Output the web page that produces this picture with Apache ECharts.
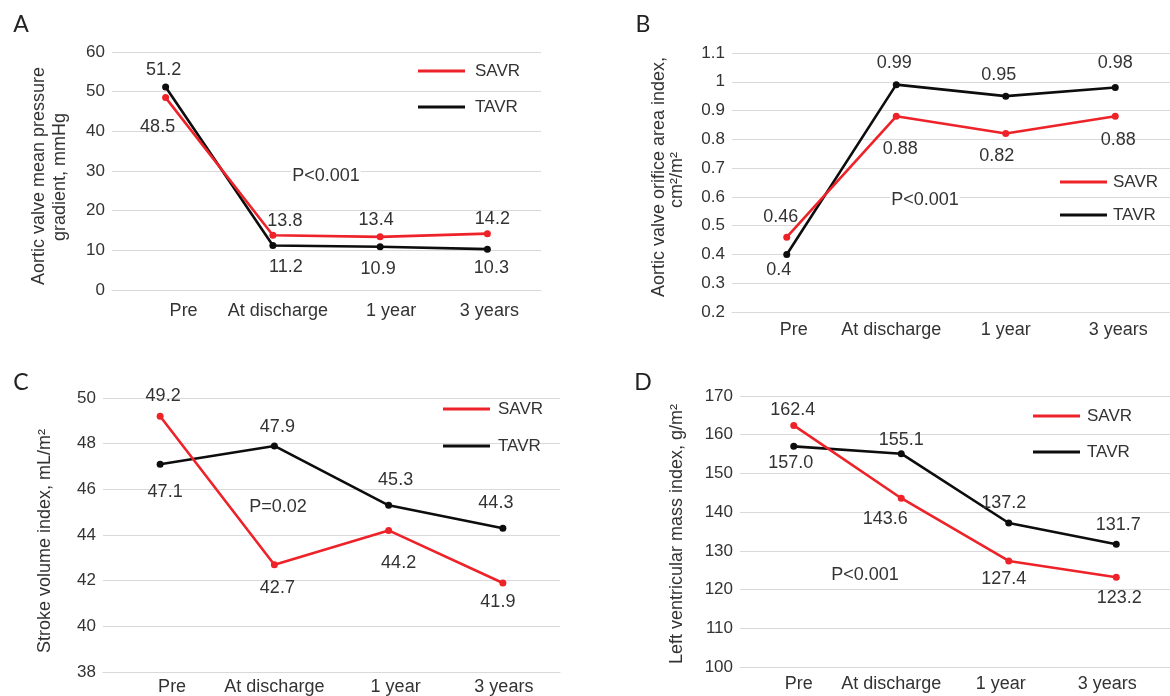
<!DOCTYPE html>
<html>
<head>
<meta charset="utf-8">
<script src="https://cdn.jsdelivr.net/npm/echarts@6/dist/echarts.min.js"></script>
<style>
  html, body { margin: 0; padding: 0; background: #fff; }
  #chart { width: 1170px; height: 696px; }
</style>
</head>
<body>
<div id="chart"></div>
<script>
// ---- data ----
const categories = ['Pre', 'At discharge', '1 year', '3 years'];
const seriesNames = ['SAVR', 'TAVR'];

// A: aortic valve mean pressure gradient, mmHg
const gradientSAVR = [48.5, 13.8, 13.4, 14.2];
const gradientTAVR = [51.2, 11.2, 10.9, 10.3];
// B: aortic valve orifice area index, cm2/m2
const areaSAVR = [0.46, 0.88, 0.82, 0.88];
const areaTAVR = [0.4, 0.99, 0.95, 0.98];
// C: stroke volume index, mL/m2
const strokeSAVR = [49.2, 42.7, 44.2, 41.9];
const strokeTAVR = [47.1, 47.9, 45.3, 44.3];
// D: left ventricular mass index, g/m2
const massSAVR = [162.4, 143.6, 127.4, 123.2];
const massTAVR = [157.0, 155.1, 137.2, 131.7];

// y-axis ranges (min, max, step)
const gradientAxis = [0, 60, 10];
const areaAxis = [0.2, 1.1, 0.1];
const strokeAxis = [38, 50, 2];
const massAxis = [100, 170, 10];

const panelLetters = ['A', 'B', 'C', 'D'];
const pValues = ['P<0.001', 'P<0.001', 'P=0.02', 'P<0.001'];
const yTitles = [
  ['Aortic valve mean pressure', 'gradient, mmHg'],
  ['Aortic valve orifice area index,', 'cm²/m²'],
  ['Stroke volume index, mL/m²'],
  ['Left ventricular mass index, g/m²']
];

// ---- styling ----
const FONT = '"Liberation Sans", Arial, Helvetica, sans-serif';
const TEXT = '#333333';
const RED = '#ee2229';
const BLACK = '#0d0d0d';
const GRIDLINE = '#d9d9d9';

const panels = [
  {
    savr: gradientSAVR, tavr: gradientTAVR, axis: gradientAxis,
    fmt: v => v.toFixed(1),
    grid: { left: 112, top: 52, width: 429, height: 238 },
    catShift: [18, 5, 11, 2], catMargin: 12,
    legend: { left: 418, top: 62, gap: 18, textPad: 5 },
    savrOff: [[-8, 29], [12, -14], [-4, -17], [5, -15]],
    tavrOff: [[-2, -17], [13, 21], [-2, 22], [4, 19]],
    letter: [21, 25], p: [326, 176],
    titles: [[39, 176], [60, 177]]
  },
  {
    savr: areaSAVR, tavr: areaTAVR, axis: areaAxis,
    fmt: v => String(v),
    grid: { left: 732, top: 53, width: 448, height: 259 },
    catShift: [7, -5, 0, 3], catMargin: 9,
    legend: { left: 1060, top: 173, gap: 15, textPad: 1 },
    savrOff: [[-6, -20], [4, 33], [-9, 22], [3, 24]],
    tavrOff: [[-8, 16], [-2, -22], [-7, -21], [0, -25]],
    letter: [643, 25], p: [925, 200],
    titles: [[659, 177], [677, 180]]
  },
  {
    savr: strokeSAVR, tavr: strokeTAVR, axis: strokeAxis,
    fmt: v => v.toFixed(1),
    grid: { left: 103, top: 398, width: 457, height: 274 },
    catShift: [12, 0, 7, 1], catMargin: 6,
    legend: { left: 443, top: 400, gap: 19, textPad: 3 },
    savrOff: [[3, -20], [3, 23], [10, 33], [-5, 19]],
    tavrOff: [[5, 28], [3, -19], [7, -25], [-7, -25]],
    letter: [21, 383], p: [278, 507],
    titles: [[45, 541]]
  },
  {
    savr: massSAVR, tavr: massTAVR, axis: massAxis,
    fmt: v => v.toFixed(1),
    grid: { left: 740, top: 396, width: 442, height: 271 },
    catShift: [5, -10, -8, -9], catMargin: 8,
    legend: { left: 1033, top: 407, gap: 18, textPad: 2 },
    savrOff: [[-1, -15], [-16, 21], [-5, 18], [3, 21]],
    tavrOff: [[-3, 17], [0, -14], [-5, -20], [2, -19]],
    letter: [643, 383], p: [865, 575],
    titles: [[677, 534]]
  }
];

function catLabel(shifts, margin) {
  const rich = {};
  shifts.forEach((dx, i) => {
    rich['c' + i] = {
      fontSize: 18, fontFamily: FONT, color: TEXT,
      padding: dx >= 0 ? [0, 0, 0, 2 * dx] : [0, -2 * dx, 0, 0]
    };
  });
  return {
    interval: 0, margin: margin,
    formatter: (v, i) => '{c' + i + '|' + v + '}',
    rich: rich
  };
}

function pointData(values, offsets) {
  return values.map((v, i) => ({ value: v, label: { offset: offsets[i] } }));
}

const grids = [], xAxes = [], yAxes = [], series = [], legends = [], graphics = [];

panels.forEach((p, k) => {
  grids.push(Object.assign({ containLabel: false }, p.grid));
  xAxes.push({
    type: 'category', gridIndex: k, data: categories, boundaryGap: true,
    axisLine: { show: true, lineStyle: { color: GRIDLINE, width: 1 } },
    axisTick: { show: false },
    axisLabel: catLabel(p.catShift, p.catMargin)
  });
  yAxes.push({
    type: 'value', gridIndex: k,
    min: p.axis[0], max: p.axis[1], interval: p.axis[2],
    axisLine: { show: false }, axisTick: { show: false },
    splitLine: { show: true, lineStyle: { color: GRIDLINE, width: 1 } },
    axisLabel: {
      fontSize: 17, fontFamily: FONT, color: TEXT, margin: 7,
      formatter: v => String(+v.toFixed(2))
    }
  });
  [[p.savr, p.savrOff, RED, 0], [p.tavr, p.tavrOff, BLACK, 1]].forEach(([vals, offs, color, s]) => {
    series.push({
      name: seriesNames[s], type: 'line', xAxisIndex: k, yAxisIndex: k,
      data: pointData(vals, offs),
      symbol: 'circle', symbolSize: 7, showSymbol: true,
      itemStyle: { color: color },
      lineStyle: { color: color, width: 2.6 },
      emphasis: { disabled: true },
      z: s === 0 ? 3 : 2,
      label: {
        show: true, position: 'inside',
        fontSize: 18, fontFamily: FONT, color: TEXT,
        formatter: d => p.fmt(d.value)
      },
      animation: false
    });
  });
  legends.push({
    orient: 'vertical', left: p.legend.left, top: p.legend.top,
    itemGap: p.legend.gap, itemWidth: 47, itemHeight: 3, icon: 'rect',
    padding: 0, selectedMode: false,
    data: seriesNames,
    textStyle: {
      fontSize: 17, fontFamily: FONT, color: TEXT, lineHeight: 18,
      padding: [0, 0, 0, p.legend.textPad]
    }
  });
  graphics.push({
    type: 'text', x: p.letter[0], y: p.letter[1], z: 100,
    style: { text: panelLetters[k], fontSize: 23, fontFamily: 'Lato, "Open Sans", sans-serif',
             fill: '#222', align: 'center', verticalAlign: 'middle' }
  });
  // p-value annotation sits on a white box so gridlines pass behind it
  graphics.push({
    type: 'text', x: p.p[0], y: p.p[1], z: 100,
    style: { text: pValues[k], fontSize: 18, fontFamily: FONT, fill: TEXT,
             align: 'center', verticalAlign: 'middle',
             backgroundColor: '#ffffff', padding: [0, 1] }
  });
  yTitles[k].forEach((line, j) => {
    graphics.push({
      type: 'text', x: p.titles[j][0], y: p.titles[j][1], rotation: Math.PI / 2, z: 100,
      style: { text: line, fontSize: 18, fontFamily: FONT, fill: TEXT,
               align: 'center', verticalAlign: 'middle' }
    });
  });
});

const chart = echarts.init(document.getElementById('chart'), null, { renderer: 'canvas' });
chart.setOption({
  backgroundColor: '#ffffff',
  animation: false,
  grid: grids,
  xAxis: xAxes,
  yAxis: yAxes,
  legend: legends,
  series: series,
  graphic: graphics
});
</script>
</body>
</html>
